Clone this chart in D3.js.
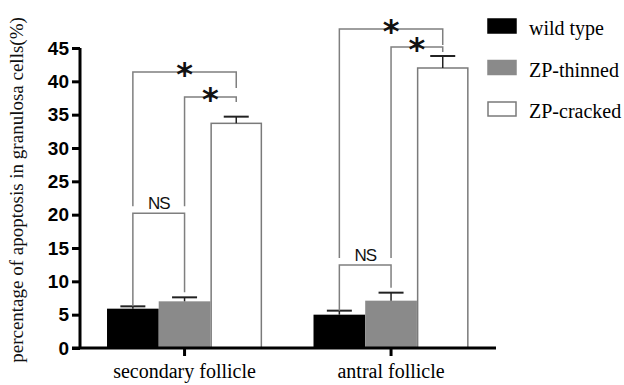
<!DOCTYPE html>
<html><head><meta charset="utf-8">
<script src="https://cdn.jsdelivr.net/npm/d3@7"></script>
<style>body{margin:0;background:#fff}svg{display:block}
.serif{font-family:"Liberation Serif","Times New Roman",Times,"DejaVu Serif",serif}
.sans{font-family:"Liberation Sans",Arial,Helvetica,sans-serif}
</style>
</head><body>
<svg id="c" width="624" height="385"></svg>
<script>
const categories = ["secondary follicle", "antral follicle"];
const series = ["wild type", "ZP-thinned", "ZP-cracked"];
const wildType   = [5.9, 5.0];
const zpThinned  = [7.0, 7.1];
const zpCracked  = [33.7, 42.0];
const wildErr    = [0.35, 0.6];
const thinnedErr = [0.6, 1.2];
const crackedErr = [1.0, 1.8];
const yTicks = [0, 5, 10, 15, 20, 25, 30, 35, 40, 45];
// significance comparisons: [from series, to series, label, level per category]
const compA = [0, 2, "*", [41.4, 47.85]];
const compB = [1, 2, "*", [37.65, 45.15]];
const compC = [0, 1, "NS", [20.2, 12.45]];

const values = [wildType, zpThinned, zpCracked];
const errors = [wildErr, thinnedErr, crackedErr];
const fills = ["#000000", "#8a8a8a", "#ffffff"];
const strokes = ["#000000", "#8a8a8a", "#7a7a7a"];

const svg = d3.select("#c");
const y = d3.scaleLinear().domain([0, 45]).range([348, 48]);
const x0 = d3.scaleBand().domain(categories).range([81, 494.6]).paddingInner(0.249).paddingOuter(0.126);
const x1 = d3.scaleBand().domain(series).range([0, x0.bandwidth()]).padding(0);

// bars
categories.forEach((c, ci) => {
  series.forEach((s, si) => {
    const v = values[si][ci];
    const bx = x0(c) + x1(s);
    svg.append("rect")
      .attr("x", bx + (si === 2 ? 0.75 : 0))
      .attr("y", y(v))
      .attr("width", x1.bandwidth() - (si === 2 ? 1.5 : 0))
      .attr("height", y(0) - y(v))
      .attr("fill", fills[si])
      .attr("stroke", si === 2 ? strokes[si] : "none")
      .attr("stroke-width", 1.5);
    const cx = bx + x1.bandwidth() / 2;
    const top = y(v + errors[si][ci]);
    svg.append("line").attr("x1", cx).attr("x2", cx).attr("y1", y(v)).attr("y2", top)
      .attr("stroke", "#222").attr("stroke-width", 1.5);
    svg.append("line").attr("x1", cx - 12.5).attr("x2", cx + 12.5).attr("y1", top).attr("y2", top)
      .attr("stroke", "#222").attr("stroke-width", 2);
  });
});

// significance brackets
const bc = "#7f7f7f";
function center(c, si) { return x0(c) + x1(series[si]) + x1.bandwidth() / 2; }
categories.forEach((c, ci) => {
  const nsLevel = y(compC[3][ci]);
  [compA, compB].forEach((cmp, k) => {
    const lv = y(cmp[3][ci]);
    const xa = center(c, cmp[0]), xb = center(c, cmp[1]);
    const rightDrop = k === 0 ? 16 : 5;
    svg.append("path")
      .attr("d", `M${xa},${nsLevel - 7}V${lv}H${xb}V${lv + rightDrop}`)
      .attr("fill", "none").attr("stroke", bc).attr("stroke-width", 1.5);
    svg.append("text").attr("x", (xa + xb) / 2).attr("y", lv + 13)
      .attr("text-anchor", "middle").style("font-family", "'DejaVu Sans',sans-serif")
      .attr("font-weight", "bold").attr("font-size", 32).attr("fill", "#111").text(cmp[2]);
  });
  const xa = center(c, compC[0]), xb = center(c, compC[1]);
  const ta = y(values[compC[0]][ci] + errors[compC[0]][ci]);
  const tb = y(values[compC[1]][ci] + errors[compC[1]][ci]) - 5;
  svg.append("path")
    .attr("d", `M${xa},${ta}V${nsLevel}H${xb}V${tb}`)
    .attr("fill", "none").attr("stroke", bc).attr("stroke-width", 1.5);
  svg.append("text").attr("class", "sans").attr("x", (xa + xb) / 2).attr("y", nsLevel - 4)
    .attr("text-anchor", "middle")
    .attr("font-size", 17).attr("letter-spacing", -1).attr("fill", "#111").text(compC[2]);
});

// y axis
const ya = svg.append("g").attr("transform", "translate(80,0)")
  .call(d3.axisLeft(y).tickValues(yTicks).tickSize(8).tickPadding(3));
ya.attr("font-family", null);
ya.select(".domain").attr("stroke", "#000").attr("stroke-width", 3).attr("d", `M0,${y(45)}V${y(0)}`);
ya.selectAll(".tick line").attr("stroke", "#000").attr("stroke-width", 3);
ya.selectAll(".tick text").attr("class", "sans").attr("font-weight", "bold")
  .attr("font-size", 19).attr("fill", "#000");

// x axis
const xa = svg.append("g").attr("transform", `translate(0,${y(0)})`)
  .call(d3.axisBottom(x0).tickSize(8).tickPadding(8));
xa.attr("font-family", null);
xa.select(".domain").attr("stroke", "#000").attr("stroke-width", 3).attr("d", `M72,0H496`);
xa.selectAll(".tick line").attr("stroke", "#000").attr("stroke-width", 3);
xa.selectAll(".tick text").attr("class", "serif")
  .attr("font-size", 20).attr("fill", "#000");

// y label
svg.append("text").attr("class", "serif").attr("transform", "translate(23,190) rotate(-90)")
  .attr("text-anchor", "middle")
  .attr("font-size", 19).attr("fill", "#111")
  .text("percentage of apoptosis in granulosa cells(%)");

// legend
series.forEach((s, si) => {
  const g = svg.append("g").attr("transform", `translate(488,${19 + si * 41.5})`);
  g.append("rect").attr("x", 0).attr("y", 0).attr("width", 28).attr("height", 14)
    .attr("fill", fills[si]).attr("stroke", strokes[si]).attr("stroke-width", 1.5);
  g.append("text").attr("class", "serif").attr("x", 41).attr("y", 16)
    .attr("font-size", 20).attr("fill", "#000").text(s);
});
</script>
</body></html>
